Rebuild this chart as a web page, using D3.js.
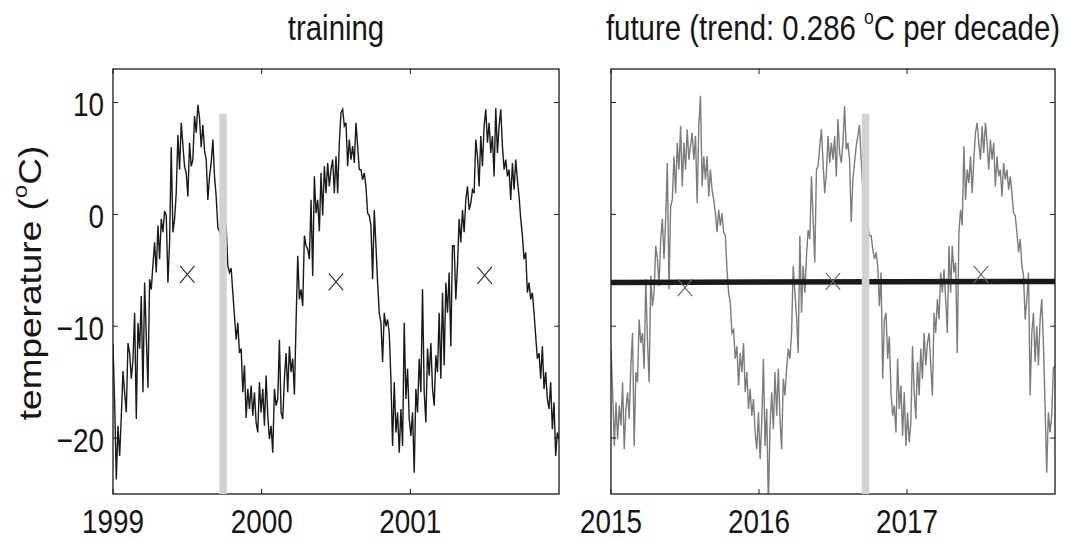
<!DOCTYPE html>
<html>
<head>
<meta charset="utf-8">
<script src="https://cdn.jsdelivr.net/npm/d3@7"></script>
<style>
  body { margin: 0; background: #fff; }
  text { font-family: "Liberation Sans", Arial, Helvetica, sans-serif; fill: #161616; }
</style>
</head>
<body>
<svg id="chart" width="1067" height="540"></svg>
<script>
// Daily-ish temperature series (°C), evenly spaced over each period
const trainPeriod = [1999, 2002];
const futurePeriod = [2015, 2018];

const trainTemp = [
  -11.6, -17, -23.7, -18.9, -21.6, -18, -14, -16, -17.7, -11.5,
  -12.4, -14.7, -13, -8.8, -18.3, -9.7, -12, -7.3, -15.9, -6.1,
  -10.9, -15.5, -5.8, -6.7, -4.5, -2.5, -5.2, -1, -4, -0.4,
  -1.6, 0.3, -0.1, -6.1, -2.5, 6, -1.6, -0.4, 1.9, 7.1,
  4, 8.2, 6.2, 4.3, 3.7, 1.6, 6.4, 4.3, 4.9, 8.8,
  7.3, 9.8, 8.6, 6, 8, 5.7, 4.9, 1.3, 3.4, 4.6,
  6.7, 3.4, 1.6, -1.2, -1.5, -2, -2.5, -1, -1, -4.6,
  -5.2, -4.8, -7, -9.1, -11.2, -9.7, -12.4, -12, -15.9, -13.5,
  -18.2, -15.6, -17.4, -15.3, -18, -15.9, -18.6, -19.5, -15, -17.7,
  -15.6, -18.9, -14.4, -18, -20.1, -18.9, -21.3, -15.6, -17.1, -16.5,
  -11.2, -17.7, -18.3, -14.7, -12.4, -15.9, -11.8, -14.1, -12.9, -16.1,
  -9.7, -3.7, -7.6, -6.7, -8.2, -1.9, -2.8, -3.1, -4, 1.3,
  -5.5, 3.4, 0.1, 1.3, -1.5, 3.7, -0.1, 4.3, 1.9, 4.6,
  2.5, 4, 4.9, 1.9, 5.2, 1.9, 6.4, 9.1, 9.4, 7.9,
  8.2, 4.3, 6.7, 4.9, 6.1, 4.6, 8.2, 6.1, 4,
  4, 3.1, 3.7, 2.5, 0.1, -0.1, -1, -5.8, 0.4, -2.8,
  -6.1, -8.8, -9.7, -13.2, -8.8, -10, -9.4, -10.6, -14.7, -20.7,
  -15, -19.5, -17.7, -21.3, -17.4, -20.7, -9.7, -16.5, -13.8, -18.3,
  -19.8, -17.7, -23.1, -15.6, -17.7, -12.9, -15.9, -6.7, -15.9, -18.6,
  -12, -14.4, -11.5, -15.6, -17.1, -12.6, -14.1, -8.8, -14.7, -7,
  -13.5, -6.1, -8.8, -5.2, -11.8, -2.8, -2.8, -7.6, -4.6, -0.4,
  -2.5, 0.4, -1.6, 1.3, 2.5, 0.4, 1, 2.2, 1.9, 6.7,
  5.2, 2.5, 7, 4.3, 7.9, 9.4, 6.4, 8.2, 5.5, 7,
  3.4, 9.5, 5.5, 7.9, 9.4, 6.1, 4, 4.9, 3.4, 4,
  1.3, 4.6, 2.2, 4.9, 3.1, 1.6, -0.4, -1.9, -4, -3.4,
  -7, -6.1, -7.6, -7, -8.8, -10.9, -12.9, -12.4, -14.7, -11.8,
  -15.6, -14.1, -16.5, -17.4, -15, -19.2, -16.8, -21.6, -19.5, -20.1
];

const futureTemp = [
  -12.1, -15.9, -20.7, -16.8, -20.1, -17.1, -18.9, -15, -21, -17.4,
  -15.9, -18.3, -13.5, -10.6, -20.7, -14.1, -15, -9.4, -11.5, -10.6,
  -13.8, -5.8, -11.2, -15, -5.5, -8.2, -7, -2.8, -4, -6.4,
  -2.2, -0.4, -4, -0.4, 4.6, -6.7, 0.7, 1.3, 5.2, 1.9,
  6.4, 4, 7.9, 2.5, 6.4, 4, 7.6, 4.9, 6.1, 7.3,
  4.9, 7, 1, 7.9, 10.6, 2.5, 5.2, 3.1, 5.2, 1.6,
  4, 2.2, 1.3, 0.1, -1.6, 0.4, -1, 0.1, -1.6, -1.9,
  -4.9, -7, -7.9, -10.6, -10.3, -12.9, -11.8, -15.3, -12.4, -14.1,
  -11.5, -15.9, -14.1, -17.4, -15.6, -18, -16.5, -19.5, -21, -17.7,
  -21.9, -18.6, -12.9, -20.7, -17.4, -26, -18.9, -15.9, -19.2, -14.1,
  -18, -13.8, -18.3, -21, -14.7, -16.2, -13.8, -12, -12.9, -10.6,
  -4.6, -7, -9.1, -12.4, -1.9, -8.8, -4.6, -7, -3.7, -1.4,
  -2.2, 3.4, -0.4, -4.3, 4, 4.3, 6.1, 7.6, 4.6, 1.9,
  3.7, 7, 4.6, 6.4, 4.9, 7, 3.4, 8.5, 5.5,
  4.6, 6.4, 9.7, 5.8, 6.4, 4.9, -0.7, 3.1, 4.6, 6.1,
  7, 8, 4.9, 2.2, 0.7, -0.4, -1, -1.9, -1.9, -3.1,
  -4, -3.4, -4.6, -8.2, -5.2, -14.7, -9.4, -8.8, -12.9, -10.9,
  -15.9, -18, -17.1, -19.5, -12.9, -17.4, -15.3, -19.8, -15.9, -20.7,
  -17.7, -20.4, -18.6, -11.8, -15.9, -18.3, -13.2, -16.2, -12, -14.7,
  -10.6, -13.5, -11.5, -10.6, -13.5, -16.2, -8.8, -10.6, -7.6, -9.4,
  -5.2, -7, -4.9, -7.6, -10.6, -2.8, -7, -2.8, -5.2, -4.3,
  -12.4, -1.6, 0.4, -1, 6.1, 1.3, 4, 2.8, 5.2, 1.9,
  4.9, 7.3, 8.2, 6.4, 4.9, 7.9, 5.5, 8.2, 6.4, 4,
  6.7, 4.9, 6.4, 2.5, 5.2, 3.4, 4, 1.6, 4.6, 3.1,
  4, 2.2, 3.4, 1.9, 0.1, -0.1, -1.6, -3.4, -2.2, -4.6,
  -5.5, -9.4, -7.6, -5.2, -16.2, -10.6, -8.8, -13.2, -10, -13.5,
  -9.4, -7.6, -11.5, -17.1, -23.1, -17.7, -19.5, -18, -13.8, -13.5
];

// Annual means (×)
const trainMeanYear = [1999.5, 2000.5, 2001.5];
const trainMean = [-5.36, -6.04, -5.45];
const futureMeanYear = [2015.5, 2016.5, 2017.5];
const futureMean = [-6.55, -5.98, -5.36];

// Fitted trend over the future period
const trendYear = [2015, 2018];
const trendValue = [-6.08, -5.99];

// Vertical marker bars
const trainMarkYear = 1999.74;
const futureMarkYear = 2016.72;
const markTop = 9;

// Axis ticks and text
const trainTicks = [1999, 2000, 2001];
const futureTicks = [2015, 2016, 2017];
const tempTicks = [-20, -10, 0, 10];
const tempDomain = [-25, 13];
const trainTitle = ["training"];
const futureTitle = ["future (trend: 0.286 ", "o", "C per decade)"];
const yLabel = ["temperature (", "o", "C)"];

const svg = d3.select("#chart");
const plotTop = 69, plotBottom = 494;
const y = d3.scaleLinear().domain(tempDomain).range([plotBottom, plotTop]);
const fmt = d3.format("");
const HS = 0.82; // horizontal squeeze of glyphs

function panel(id, xRange, period, temps, lineColor, xTicks, showYLabels,
               meanYears, means, markColor, markYear, trend) {
  const x = d3.scaleLinear().domain(period).range(xRange);
  const idx = d3.scaleLinear().domain([0, temps.length - 1]).range(period);
  const g = svg.append("g");

  g.append("clipPath").attr("id", id)
    .append("rect").attr("x", xRange[0]).attr("y", plotTop)
    .attr("width", xRange[1] - xRange[0]).attr("height", plotBottom - plotTop);

  const plot = g.append("g").attr("clip-path", `url(#${id})`);

  plot.append("path")
    .datum(temps)
    .attr("fill", "none")
    .attr("stroke", lineColor)
    .attr("stroke-width", 1.4)
    .attr("stroke-linejoin", "miter")
    .attr("d", d3.line().x((d, i) => x(idx(i))).y(d => y(d)));

  if (trend) {
    plot.append("path")
      .datum(trend[0].map((t, i) => [t, trend[1][i]]))
      .attr("fill", "none")
      .attr("stroke", "#1a1a1a")
      .attr("stroke-width", 5.5)
      .attr("d", d3.line().x(d => x(d[0])).y(d => y(d[1])));
  }

  // annual mean crosses
  plot.selectAll("path.mean")
    .data(meanYears.map((t, i) => [t, means[i]]))
    .join("path")
    .attr("class", "mean")
    .attr("transform", d => `translate(${x(d[0])},${y(d[1])})`)
    .attr("d", "M-7.2,-8.5L7.2,8.5M-7.2,8.5L7.2,-8.5")
    .attr("fill", "none")
    .attr("stroke", markColor)
    .attr("stroke-width", 1.1);

  // box
  g.append("rect")
    .attr("x", xRange[0]).attr("y", plotTop)
    .attr("width", xRange[1] - xRange[0]).attr("height", plotBottom - plotTop)
    .attr("fill", "none").attr("stroke", "#1a1a1a").attr("stroke-width", 1.3);

  // inward ticks on all four sides
  const tl = 5;
  xTicks.forEach(t => {
    const px = x(t);
    g.append("line").attr("x1", px).attr("x2", px).attr("y1", plotBottom).attr("y2", plotBottom - tl)
      .attr("stroke", "#1a1a1a").attr("stroke-width", 1);
    g.append("line").attr("x1", px).attr("x2", px).attr("y1", plotTop).attr("y2", plotTop + tl)
      .attr("stroke", "#1a1a1a").attr("stroke-width", 1);
    g.append("text")
      .attr("transform", `translate(${px},533) scale(${HS},1)`)
      .attr("text-anchor", "middle")
      .attr("font-size", 34)
      .text(fmt(t));
  });
  tempTicks.forEach(v => {
    const py = y(v);
    g.append("line").attr("x1", xRange[0]).attr("x2", xRange[0] + tl).attr("y1", py).attr("y2", py)
      .attr("stroke", "#1a1a1a").attr("stroke-width", 1);
    g.append("line").attr("x1", xRange[1]).attr("x2", xRange[1] - tl).attr("y1", py).attr("y2", py)
      .attr("stroke", "#1a1a1a").attr("stroke-width", 1);
    if (showYLabels) {
      g.append("text")
        .attr("transform", `translate(${xRange[0] - 9},${py + 13.5}) scale(${HS},1)`)
        .attr("text-anchor", "end")
        .attr("font-size", 34)
        .text(fmt(v).replace("-", "\u2212"));
    }
  });

  // light vertical bar
  g.append("rect")
    .attr("x", x(markYear) - 3.8)
    .attr("width", 7.6)
    .attr("y", y(markTop))
    .attr("height", plotBottom - y(markTop))
    .attr("fill", "#d2d2d2");

  return x;
}

panel("clipTrain", [113, 559], trainPeriod, trainTemp, "#1a1a1a", trainTicks, true,
      trainMeanYear, trainMean, "#2a2a2a", trainMarkYear, null);
panel("clipFuture", [611, 1055], futurePeriod, futureTemp, "#7c7c7c", futureTicks, false,
      futureMeanYear, futureMean, "#666666", futureMarkYear, [trendYear, trendValue]);

// panel titles
svg.append("text")
  .attr("transform", `translate(336,40) scale(0.84,1)`)
  .attr("text-anchor", "middle")
  .attr("font-size", 35)
  .text(trainTitle[0]);

const ft = svg.append("text")
  .attr("transform", `translate(833,40) scale(0.84,1)`)
  .attr("text-anchor", "middle")
  .attr("font-size", 35);
ft.append("tspan").text(futureTitle[0]);
ft.append("tspan").attr("font-size", 21).attr("dy", -16).text(futureTitle[1]);
ft.append("tspan").attr("dy", 16).text(futureTitle[2]);

// y-axis label
const yl = svg.append("text")
  .attr("transform", `translate(41,283) scale(0.84,1) rotate(-90)`)
  .attr("text-anchor", "middle")
  .attr("font-size", 37);
yl.append("tspan").text(yLabel[0]);
yl.append("tspan").attr("font-size", 24).attr("dy", -17).text(yLabel[1]);
yl.append("tspan").attr("dy", 17).text(yLabel[2]);
</script>
</body>
</html>
